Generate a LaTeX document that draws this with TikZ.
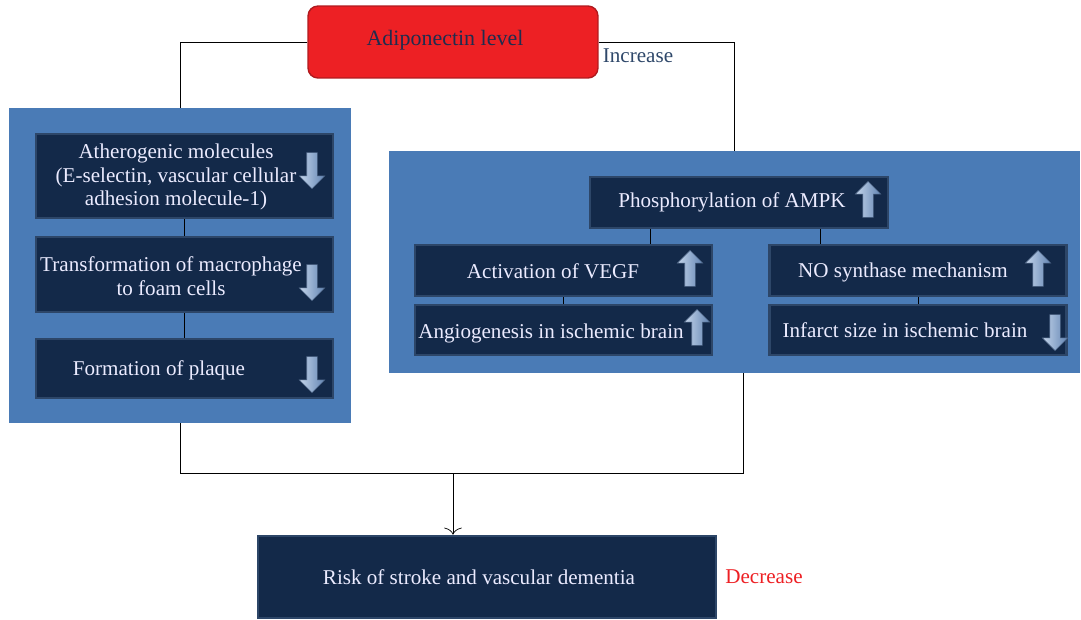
\documentclass[tikz,border=0pt]{standalone}
\usepackage{fontspec}
\setmainfont{Liberation Serif}
\usetikzlibrary{shapes.arrows,arrows.meta}
\definecolor{panelblue}{RGB}{74,123,182}
\definecolor{boxnavy}{RGB}{19,41,73}
\definecolor{boxedge}{RGB}{45,70,104}
\definecolor{adipored}{RGB}{237,32,36}
\definecolor{adipoedge}{RGB}{176,26,30}
\definecolor{inctext}{RGB}{47,72,106}
\definecolor{adipotext}{RGB}{32,44,78}
\definecolor{arrlight}{RGB}{196,213,235}
\definecolor{arrdark}{RGB}{98,132,178}

\begin{document}
\begin{tikzpicture}[x=0.02cm,y=-0.02cm]
\useasboundingbox (0,0) rectangle (1081,619);
\tikzstyle{panel}=[fill=panelblue, inner sep=0pt]
\tikzstyle{box}=[fill=boxnavy, draw=boxedge, line width=1.5pt, inner sep=0pt, minimum width=5.94cm]
\tikzstyle{boxtxt}=[text=white!92!blue, font=\fontsize{12}{13.5}\selectfont, align=center, inner sep=0pt]
\tikzstyle{uparr}=[single arrow, shape border rotate=90, draw=arrdark!70!black, line width=0.3pt, left color=arrlight, right color=arrdark, minimum height=0.72cm, inner sep=0.1cm, single arrow head extend=0.15cm, single arrow head indent=0pt]
\tikzstyle{dnarr}=[uparr, shape border rotate=270]

\node[panel, minimum width=6.84cm, minimum height=6.3cm] (leftpanel) at (180,265.5) {};
\node[panel, minimum width=13.82cm, minimum height=4.44cm] (rightpanel) at (734.5,262) {};

\node[fill=adipored, draw=adipoedge, line width=0.8pt, rounded corners=0.2cm, minimum width=5.8cm, minimum height=1.44cm] (adipo) at (453,42) {};
\node[text=adipotext, font=\fontsize{12.5}{14}\selectfont] (adipo-t) at (445,40) {Adiponectin level};
\node[text=inctext, font=\fontsize{12}{13.5}\selectfont] (inc) at (638,56) {Increase};

\node[box, minimum height=1.68cm] (athero) at (184.5,176) {};
\node[box, minimum height=1.5cm] (foam) at (184.5,274.5) {};
\node[box, minimum height=1.18cm] (plaque) at (184.5,368.5) {};
\node[box, minimum width=5.96cm, minimum height=1.02cm] (ampk) at (739,202.5) {};
\node[box, minimum height=1.02cm] (vegf) at (563.5,270.5) {};
\node[box, minimum height=1cm] (angio) at (563.5,330) {};
\node[box, minimum height=1.02cm] (nos) at (918,270.5) {};
\node[box, minimum height=1cm] (infarct) at (918,330) {};
\node[box, minimum width=9.16cm, minimum height=1.64cm] (risk) at (487,577) {};

\node[boxtxt] (athero-t) at (176,177) {Atherogenic molecules\\(E-selectin, vascular cellular\\adhesion molecule-1)};
\node[boxtxt] (foam-t) at (171,276) {Transformation of macrophage\\to foam cells};
\node[boxtxt] (plaque-t) at (159,370) {Formation of plaque};
\node[boxtxt] (ampk-t) at (732,202) {Phosphorylation of AMPK};
\node[boxtxt] (vegf-t) at (553,271) {Activation of VEGF};
\node[boxtxt] (angio-t) at (551,333) {Angiogenesis in ischemic brain};
\node[boxtxt] (nos-t) at (903,272) {NO synthase mechanism};
\node[boxtxt] (infarct-t) at (905,330) {Infarct size in ischemic brain};
\node[boxtxt] (risk-t) at (479,577) {Risk of stroke and vascular dementia};
\node[text=adipored, font=\fontsize{12}{13.5}\selectfont] (dec) at (764,577) {Decrease};

\foreach \n/\x/\y in {athero/312/168, foam/312/280, plaque/312/372, infarct/1055/330}
	\node[dnarr] (\n-arr) at (\x,\y) {};
\foreach \n/\x/\y in {ampk/868/202, vegf/690/271, angio/697/330, nos/1038/271}
	\node[uparr] (\n-arr) at (\x,\y) {};

\path (650,0) coordinate (xl) (820,0) coordinate (xr);
\coordinate (join) at (453,473);

\draw (adipo.west) -| (leftpanel.north);
\draw (adipo.east) -| (rightpanel.north);
\draw (athero) -- (foam);
\draw (foam) -- (plaque);
\draw (ampk.south -| xl) -- (vegf.north -| xl);
\draw (ampk.south -| xr) -- (nos.north -| xr);
\draw (vegf) -- (angio);
\draw (nos) -- (infarct);
\draw (leftpanel.south) |- (join);
\draw (join) -| ([xshift=0.18cm]rightpanel.south);
\draw[-{To[length=4pt,width=10pt]}] (join) -- (risk.north -| join);
\end{tikzpicture}
\end{document}
